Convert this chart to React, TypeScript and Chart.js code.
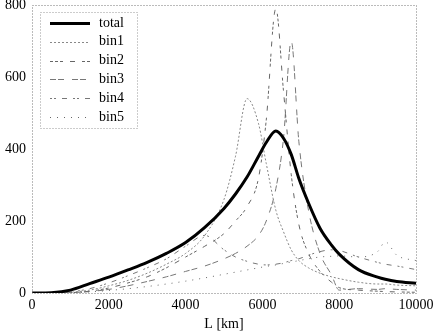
import React, { useEffect, useRef } from "react";
import { Chart, registerables } from "chart.js";

Chart.register(...registerables);

const Ls = [0, 500, 1000, 1500, 2000, 2500, 3000, 3500, 4000, 4500, 5000, 5300, 5600, 5900, 6100, 6350, 6550, 6750, 6950, 7200, 7500, 7800, 8000, 8500, 9000, 9200, 9500, 10000];
const total = [0, 1, 8, 26, 44, 64, 85, 110, 140, 182, 235, 275, 322, 380, 418, 450, 430, 385, 318, 250, 180, 133, 108, 65, 44, 38, 32, 27];
const bin1 = [0, 0, 2, 8, 20, 35, 55, 80, 110, 160, 260, 380, 540, 470, 360, 230, 170, 120, 90, 70, 55, 45, 40, 30, 25, 25, 22, 20];
const bin2 = [0, 0, 1, 5, 14, 28, 45, 70, 100, 130, 165, 200, 240, 320, 480, 790, 560, 330, 190, 110, 60, 30, 15, 8, 5, 4, 3, 2];
const bin3 = [0, 0, 1, 4, 10, 20, 32, 45, 60, 75, 95, 110, 130, 160, 200, 290, 430, 700, 420, 230, 110, 50, 8, 12, 10, 12, 10, 8];
const bin4 = [0, 0, 3, 12, 28, 48, 70, 95, 130, 160, 120, 100, 88, 80, 78, 80, 84, 90, 95, 105, 115, 120, 118, 100, 85, 80, 75, 65];
const bin5 = [0, 0, 1, 3, 7, 12, 18, 25, 33, 42, 52, 58, 64, 70, 74, 78, 82, 86, 90, 95, 100, 102, 103, 100, 115, 142, 105, 90];
const xTicks = [0, 2000, 4000, 6000, 8000, 10000];
const yTicks = [0, 200, 400, 600, 800];

const seriesNames = ["total", "bin1", "bin2", "bin3", "bin4", "bin5"];
const seriesData = [total, bin1, bin2, bin3, bin4, bin5];
const seriesStyle = [
  { color: "#000", width: 3, dash: [] as number[] },
  { color: "#888", width: 1, dash: [2, 2] },
  { color: "#666", width: 1, dash: [3, 2, 3, 2, 3, 7, 5, 7] },
  { color: "#777", width: 1, dash: [6, 2, 6, 8] },
  { color: "#777", width: 1, dash: [2, 2, 2, 6, 5, 6] },
  { color: "#666", width: 1, dash: [1, 6] },
];

const FONT = "'Liberation Serif', 'DejaVu Serif', serif";

const framePlugin = {
  id: "frame",
  afterDatasetsDraw(chart: any) {
    const { ctx, chartArea } = chart;
    ctx.save();
    ctx.strokeStyle = "#777";
    ctx.lineWidth = 1;
    ctx.setLineDash([1, 2]);
    ctx.strokeRect(chartArea.left + 0.5, chartArea.top + 0.5, chartArea.right - chartArea.left, chartArea.bottom - chartArea.top);
    // legend
    const bx = 40, by = 12, bw = 97, bh = 116;
    ctx.fillStyle = "#fff";
    ctx.fillRect(bx, by, bw, bh);
    ctx.strokeStyle = "#999";
    ctx.strokeRect(bx + 0.5, by + 0.5, bw, bh);
    ctx.font = "14px " + FONT;
    ctx.textBaseline = "middle";
    ctx.textAlign = "left";
    seriesNames.forEach((name, i) => {
      const y = 23 + i * 18.8;
      const st = seriesStyle[i];
      ctx.setLineDash(st.dash);
      ctx.strokeStyle = st.color;
      ctx.lineWidth = st.width;
      ctx.beginPath();
      ctx.moveTo(50, Math.round(y) + 0.5);
      ctx.lineTo(90, Math.round(y) + 0.5);
      ctx.stroke();
      ctx.setLineDash([]);
      ctx.fillStyle = "#000";
      ctx.fillText(name, 99, y);
    });
    ctx.restore();
  },
};

export default function App() {
  const ref = useRef<HTMLCanvasElement>(null);
  useEffect(() => {
    document.body.style.margin = "0";
    const datasets = seriesData.map((arr, i) => ({
      label: seriesNames[i],
      data: arr.map((v, j) => ({ x: Ls[j], y: v })),
      borderColor: seriesStyle[i].color,
      borderWidth: seriesStyle[i].width,
      borderDash: seriesStyle[i].dash,
      pointRadius: 0,
      fill: false,
      cubicInterpolationMode: "monotone" as const,
      order: i === 0 ? 0 : 1,
    }));
    const chart = new Chart(ref.current!, {
      type: "line",
      data: { datasets },
      options: {
        animation: false,
        responsive: false,
        devicePixelRatio: 1,
        layout: { padding: { top: 5, right: 20, left: 0, bottom: 0 } },
        plugins: { legend: { display: false }, tooltip: { enabled: false } },
        scales: {
          x: {
            type: "linear",
            min: 0,
            max: 10000,
            afterBuildTicks: (s: any) => { s.ticks = xTicks.map((v) => ({ value: v })); },
            ticks: { color: "#000", font: { family: FONT, size: 14 }, padding: 4, maxRotation: 0, callback: (v: any) => String(v) },
            grid: { display: false, drawTicks: false },
            border: { display: false },
            title: { display: true, text: "L [km]", color: "#000", font: { family: FONT, size: 14 }, padding: { top: 0, bottom: 0 } },
            afterFit: (s: any) => { s.height = 40; s.paddingLeft = 0; s.paddingRight = 0; },
          },
          y: {
            type: "linear",
            min: 0,
            max: 800,
            afterBuildTicks: (s: any) => { s.ticks = yTicks.map((v) => ({ value: v })); },
            ticks: { color: "#000", font: { family: FONT, size: 14 }, padding: 6, callback: (v: any) => String(v) },
            grid: { display: false, drawTicks: false },
            border: { display: false },
            afterFit: (s: any) => { s.width = 32; s.paddingTop = 0; s.paddingBottom = 0; },
          },
        },
      },
      plugins: [framePlugin],
    });
    return () => chart.destroy();
  }, []);
  return (
    <div style={{ position: "fixed", left: 0, top: 0, width: 436, height: 333, background: "#fff" }}>
      <canvas ref={ref} width={436} height={333} style={{ width: 436, height: 333, display: "block" }} />
    </div>
  );
}
